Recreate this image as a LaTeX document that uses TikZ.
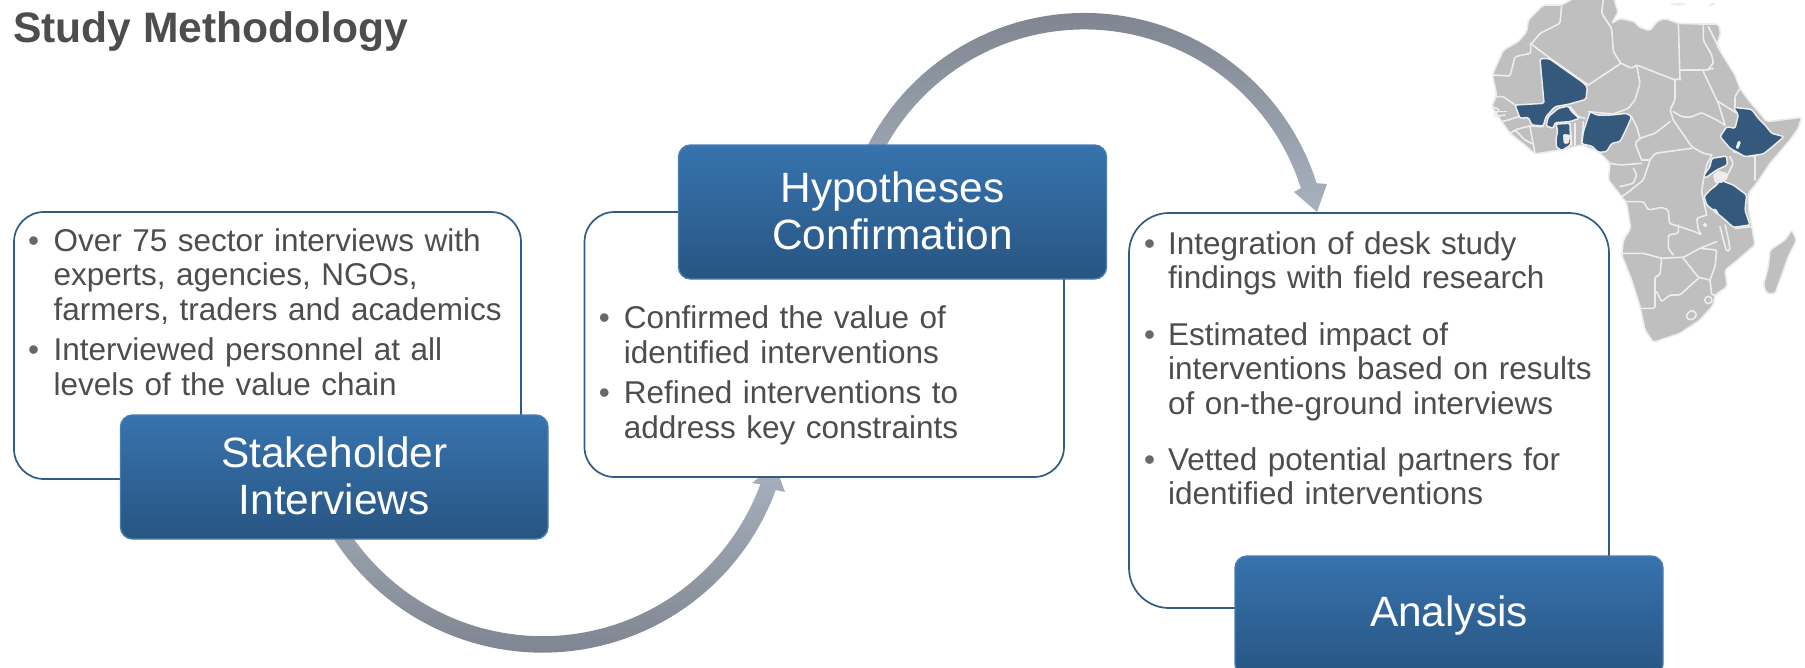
\documentclass[tikz,border=0pt]{standalone}
\usepackage{fontspec}
\setmainfont{Liberation Sans}
\definecolor{txt}{HTML}{4D4D4D}
\definecolor{edge}{HTML}{2F5B85}
\definecolor{navy}{HTML}{34597C}
\definecolor{land}{HTML}{BFBFBF}
\definecolor{halo}{HTML}{EDEDED}
\newcommand{\bul}[2][0pt]{{\hangindent=#1\hangafter=1\noindent\makebox[#1][l]{\textcolor{txt!85}{•}}\ignorespaces #2\par}}
\newcommand{\fst}{\rule{0pt}{30pt}}
\newcommand{\lft}{\rule[-3pt]{0pt}{3pt}}
\tikzset{
 panel/.style={draw=edge,line width=1.7pt,fill=white,rounded corners=#1,inner sep=0pt,outer sep=0pt,anchor=north west},
 banner/.style={draw=#1,line width=1.4pt,top color=TopB,bottom color=BotB,rounded corners=12pt,inner sep=0pt,outer sep=0pt,anchor=north west,
   text=white,align=center,font=\fontsize{42.4}{46.7}\selectfont},
 banner/.default=EdgeB,
 bullets/.style={anchor=north west,inner sep=0pt,outer sep=0pt,text=txt,text width=#1,align=left,font=\fontsize{31.5}{34.6}\selectfont},
 heading/.style={anchor=base west,inner sep=0pt,text=txt,font=\fontsize{42.6}{46}\selectfont\bfseries},
 landm/.style={fill=land,draw=halo,line width=1.6pt,line join=round,rounded corners=2pt},
 bord/.style={draw=halo,line width=1.6pt,line join=round,line cap=round,rounded corners=1.5pt},
 ctry/.style={fill=navy,draw=halo,line width=1.5pt,line join=round,rounded corners=1.5pt},
 hole/.style={fill=halo,draw=halo,line width=0.6pt,line join=round,rounded corners=1pt},
}
\definecolor{TopB}{HTML}{3773AE}
\definecolor{BotB}{HTML}{285582}
\definecolor{EdgeB}{HTML}{4A7DB0}
\definecolor{ArcD}{HTML}{7F8691}
\definecolor{ArcL}{HTML}{A8B1BE}
\begin{document}
\begin{tikzpicture}[x=1pt,y=-1pt]
\useasboundingbox (0,0) rectangle (1805,667);

% map
\begin{scope}[shift={(1440,0)},x=0.33333pt,y=-0.33333pt]
\path[landm] (157,225)--(170,195)--(190,150)--(235,125)--(260,95)--(265,60)--(310,15)--(365,15)--(400,-5)--(485,-5)--(525,-5)--(525,10)--(535,35)--(515,70)--(540,55)--(585,65)--(595,80)--(630,92)--(650,65)--(675,55)--(715,70)--(780,72)--(835,72)--(842,100)--(830,135)--(860,185)--(885,225)--(900,265)--(925,300)--(955,335)--(980,365)--(1085,352)--(1075,385)--(1050,420)--(990,490)--(950,550)--(925,580)--(925,630)--(935,675)--(945,735)--(875,795)--(855,810)--(862,860)--(825,885)--(820,915)--(780,960)--(720,1000)--(640,1027)--(615,990)--(600,920)--(575,840)--(545,765)--(550,720)--(572,685)--(560,610)--(545,590)--(505,540)--(510,490)--(475,455)--(425,435)--(360,450)--(285,462)--(260,440)--(210,400)--(185,365)--(155,320)--(170,285)--cycle;
\path[landm] (1055,690)--(1070,720)--(1045,770)--(1020,840)--(1005,882)--(980,880)--(970,855)--(985,800)--(990,750)--(1035,720)--cycle;
\path[hole] (690,12)--(720,18)--(740,12)--(720,8)--cycle;
\path[hole] (805,14)--(825,8)--(825,12)--(808,18)--cycle;
% north and west
\path[bord] (275,130)--(300,100)--(360,70)--(365,15);
\path[bord] (157,225)--(210,228)--(225,170)--(272,160)--(272,130);
\path[bord] (275,133)--(335,178)--(445,255);
\path[bord] (490,-2)--(485,40)--(515,85)--(520,155)--(543,190)--(445,255);
\path[bord] (715,70)--(720,240);
\path[bord] (543,190)--(575,205)--(590,195)--(705,240)--(720,235);
\path[bord] (590,195)--(600,250)--(585,300)--(565,325)--(520,342)--(445,335);
\path[bord] (720,210)--(800,210)--(820,205);
\path[bord] (790,75)--(790,120)--(815,165)--(820,190)--(802,210);
\path[bord] (805,80)--(840,150);
\path[bord] (705,240)--(705,300)--(690,330)--(700,360);
\path[bord] (700,335)--(725,350)--(750,352)--(785,338)--(830,360)--(855,375);
\path[bord] (790,215)--(835,310)--(855,375);
\path[bord] (835,305)--(900,345);
\path[bord] (885,320)--(885,290)--(900,265);
\path[bord] (700,360)--(755,440)--(790,460)--(815,465);
\path[bord] (690,365)--(645,400)--(600,415)--(585,430)--(605,480);
\path[bord] (575,350)--(590,380)--(600,415);
\path[bord] (755,445)--(645,460)--(630,480)--(605,480);
\path[bord] (510,490)--(540,495)--(605,490);
\path[bord] (945,465)--(945,540);
\path[bord] (880,455)--(945,470);
\path[bord] (870,470)--(880,490)--(855,540);
% central
\path[bord] (540,560)--(580,550)--(590,525)--(580,505);
\path[bord] (630,480)--(610,540)--(560,580)--(545,590);
\path[bord] (555,605)--(610,605)--(625,630)--(665,622)--(685,630)--(688,670)--(765,695)--(785,705)--(775,690)--(770,655)--(800,645);
\path[bord] (815,465)--(800,495)--(790,540)--(785,575)--(800,645);
\path[bord] (715,675)--(715,700)--(685,705)--(685,745)--(700,765);
% south
\path[bord] (547,760)--(610,760)--(665,775)--(700,773)--(730,772)--(780,745)--(830,725);
\path[bord] (780,745)--(830,750)--(825,800)--(810,840);
\path[bord] (730,775)--(775,832)--(810,840);
\path[bord] (665,775)--(660,825)--(645,830)--(645,925)--(605,925);
\path[bord] (650,875)--(665,905)--(690,885)--(720,885)--(775,835);
\path[bord] (810,840)--(815,885)--(825,885);
\path[bord] (805,900) circle[radius=3.6pt];
\path[bord] (738,945)--(755,930)--(770,940)--(765,955)--(745,960)--cycle;
\path[bord] (840,680)--(850,720)--(860,755)--(870,750)--(865,715)--(855,675);
\path[bord] (935,680)--(885,685);
\path[bord] (795,675) circle[radius=1.2pt];
% west africa small states
\path[bord] (165,290)--(190,290)--(225,315);
\path[bord] (157,320)--(180,330)--(160,345);
\path[bord] (165,335)--(200,335);
\path[bord] (165,350)--(195,345);
\path[bord] (185,365)--(205,360)--(235,350)--(250,355);
\path[bord] (270,378)--(275,410)--(285,460);
\path[bord] (210,400)--(225,390)--(245,410)--(255,420)--(275,430);
\path[bord] (225,390)--(240,385)--(270,378);
\path[bord] (270,378)--(310,380);
\path[bord] (390,370)--(395,435);
\path[bord] (405,370)--(405,435);
\path[bord] (430,365)--(425,430);
\path[bord] (390,320)--(415,350)--(435,355);
% highlighted countries
\path[ctry] (300,176)--(328,176)--(430,248)--(442,262)--(438,298)--(385,313)--(345,320)--(318,350)--(310,378)--(275,375)--(265,352)--(240,355)--(225,315)--(312,310)--(302,200)--cycle;
\path[ctry] (318,378)--(325,350)--(355,325)--(385,318)--(395,335)--(418,355)--(390,365)--(345,368)--(340,385)--cycle;
\path[ctry] (348,372)--(390,370)--(392,435)--(365,452)--(348,440)--(348,415)--(353,395)--cycle;
\path[ctry] (450,335)--(470,345)--(515,345)--(560,340)--(575,350)--(560,385)--(540,425)--(515,430)--(500,455)--(475,457)--(455,438)--(425,432)--(430,395)--(440,365)--cycle;
\path[ctry] (880,322)--(935,328)--(955,355)--(975,375)--(995,400)--(1032,410)--(995,442)--(970,462)--(915,470)--(870,445)--(840,410)--(860,380)--(885,385)--(895,345)--cycle;
\path[ctry] (815,475)--(860,468)--(862,495)--(830,510)--(795,535)--(792,525)--(810,500)--cycle;
\path[ctry] (840,540)--(880,555)--(920,585)--(915,630)--(930,675)--(880,682)--(850,655)--(800,615)--(792,590)--(810,570)--(830,555)--cycle;
\path[hole] (370,403)--(390,405)--(385,430)--(372,430)--cycle;
\path[hole] (819,628)--(826,626)--(836,640)--(830,644)--cycle;
\path[hole] (895,423)--(902,426)--(894,447)--(888,443)--cycle;
\path[hole] (820,525)--(835,512)--(860,520)--(862,535)--(845,548)--(825,548)--cycle;
\end{scope}

% curved arrows
\path[shade,top color=ArcL,bottom color=ArcD]
  plot[domain=148:20.2,samples=60] ({542.6+248.5*cos(\x)},{404.2+248.5*sin(\x)})
  -- (785,492) -- (775,465) -- (752,483)
  -- plot[domain=20.2:148,samples=60] ({542.6+232*cos(\x)},{404.2+232*sin(\x)}) -- cycle;
\path[shade,top color=ArcD,bottom color=ArcL]
  plot[domain=-155:-17.5,samples=60] ({1084.4+243.5*cos(\x)},{256.4+243.5*sin(\x)})
  -- (1327,184) -- (1317,212) -- (1294,192)
  -- plot[domain=-17.5:-155,samples=60] ({1084.4+227*cos(\x)},{256.4+227*sin(\x)}) -- cycle;

% panels
\node[panel=30pt,minimum width=507pt,minimum height=267pt] (box1) at (14,212) {};
\node[panel=30pt,minimum width=479.5pt,minimum height=265pt] (box2) at (584.5,212) {};
\node[panel=40pt,minimum width=480pt,minimum height=395pt] (box3) at (1129,213) {};

% banners
\node[banner,minimum width=427.5pt,minimum height=124pt] (lab1) at (120.5,415) {Stakeholder\\Interviews\lft};
\node[banner,minimum width=428pt,minimum height=134pt] (lab2) at (678.5,145) {Hypotheses\\Confirmation\lft};
\node[banner,minimum width=428pt,minimum height=120pt] (lab3) at (1235,556) {Analysis};

% texts
\node[heading] (title) at (13,42) {Study Methodology};
\node[bullets=490pt] (t1) at (28,221) {\bul[25.6pt]{\fst Over 75 sector interviews with\newline experts, agencies, NGOs,\newline farmers, traders and academics}\vspace{6pt}\bul[25.6pt]{Interviewed personnel at all\newline levels of the value chain}};
\node[bullets=460pt] (t2) at (598.8,298.9) {\bul[25pt]{\fst Confirmed the value of\newline identified interventions}\vspace{5.5pt}\bul[25pt]{Refined interventions to\newline address key constraints}};
\node[bullets=460pt] (t3) at (1144,224.3) {\bul[24pt]{\fst Integration of desk study\newline findings with field research}\vspace{21.5pt}\bul[24pt]{Estimated impact of\newline interventions based on results\newline of on-the-ground interviews}\vspace{21.5pt}\bul[24pt]{Vetted potential partners for\newline identified interventions}};
\end{tikzpicture}
\end{document}
